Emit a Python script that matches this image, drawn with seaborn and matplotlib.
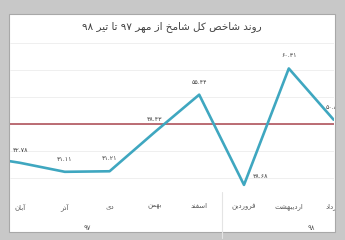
import matplotlib
matplotlib.use('Agg')
import matplotlib.pyplot as plt
import seaborn as sns
import pandas as pd
from matplotlib.patches import Rectangle

# chart data
months = ['مهر', 'آبان', 'آذر', 'دی', 'بهمن', 'اسفند', 'فروردین', 'اردیبهشت', 'خرداد', 'تیر']
values = [44.10, 42.78, 41.11, 41.21, 48.43, 55.44, 38.68, 60.31, 50.80, 51.50]
years = ['۹۷', '۹۸']
year_span = [(0, 5), (6, 9)]
threshold = 50
title = 'روند شاخص کل شامخ از مهر ۹۷ تا تیر ۹۸'

# simple persian shaping (matplotlib has no text shaping)
FORMS = {
    'ا': ('\uFE8D', '\uFE8E', None, None), 'آ': ('\uFE81', '\uFE82', None, None),
    'ب': ('\uFE8F', '\uFE90', '\uFE91', '\uFE92'), 'ت': ('\uFE95', '\uFE96', '\uFE97', '\uFE98'),
    'خ': ('\uFEA5', '\uFEA6', '\uFEA7', '\uFEA8'), 'د': ('\uFEA9', '\uFEAA', None, None),
    'ذ': ('\uFEAB', '\uFEAC', None, None), 'ر': ('\uFEAD', '\uFEAE', None, None),
    'ز': ('\uFEAF', '\uFEB0', None, None), 'س': ('\uFEB1', '\uFEB2', '\uFEB3', '\uFEB4'),
    'ش': ('\uFEB5', '\uFEB6', '\uFEB7', '\uFEB8'), 'ص': ('\uFEB9', '\uFEBA', '\uFEBB', '\uFEBC'),
    'ف': ('\uFED1', '\uFED2', '\uFED3', '\uFED4'), 'ل': ('\uFEDD', '\uFEDE', '\uFEDF', '\uFEE0'),
    'م': ('\uFEE1', '\uFEE2', '\uFEE3', '\uFEE4'), 'ن': ('\uFEE5', '\uFEE6', '\uFEE7', '\uFEE8'),
    'ه': ('\uFEE9', '\uFEEA', '\uFEEB', '\uFEEC'), 'و': ('\uFEED', '\uFEEE', None, None),
    'ک': ('\uFB8E', '\uFB8F', '\uFB90', '\uFB91'), 'ی': ('\uFBFC', '\uFBFD', '\uFBFE', '\uFBFF'),
}


def shape_word(w):
    out = []
    for i, c in enumerate(w):
        if c not in FORMS:
            out.append(c)
            continue
        iso, fin, ini, med = FORMS[c]
        prev = w[i - 1] if i > 0 else None
        nxt = w[i + 1] if i + 1 < len(w) else None
        jp = prev in FORMS and FORMS[prev][2] is not None
        jn = nxt in FORMS and ini is not None
        if jp and jn:
            out.append(med)
        elif jp:
            out.append(fin)
        elif jn:
            out.append(ini)
        else:
            out.append(iso)
    return ''.join(out)[::-1]


def fa(text):
    words = text.split(' ')
    words = [w if w[0] in '۰۱۲۳۴۵۶۷۸۹' else shape_word(w) for w in words]
    return ' '.join(reversed(words))


def fa_num(v):
    return f'{v:.2f}'.translate(str.maketrans('0123456789', '۰۱۲۳۴۵۶۷۸۹'))


df = pd.DataFrame({'idx': range(len(months)), 'value': values})

sns.set_style('white')
plt.rcParams['font.family'] = ['DejaVu Sans']

fig = plt.figure(figsize=(3.45, 2.40), dpi=100)
fig.patch.set_facecolor('#c8c8c8')

# white panel with thin border, behind everything
bg = fig.add_axes([0, 0, 1, 1], zorder=-1)
bg.set_xlim(0, 345)
bg.set_ylim(240, 0)
bg.axis('off')
panel = Rectangle((9, 14), 326, 218, facecolor='white', edgecolor='#a8a8a8', linewidth=0.8)
bg.add_patch(panel)

ax = fig.add_axes([10 / 345, 45 / 240, 324 / 345, 155 / 240], zorder=1)
ax.set_facecolor('none')

for g in range(40, 70, 5):
    ax.axhline(g, color='#ededed', lw=0.6, zorder=0)
ax.axhline(threshold, color='#b0535c', lw=1.4, alpha=0.85, zorder=1)

sns.lineplot(data=df, x='idx', y='value', ax=ax, color='#3fa7c0', lw=1.9, zorder=3)

for i, v in enumerate(values):
    off = (12, 6) if i == 6 else (0, 9)
    t = ax.annotate(fa_num(v), (i, v), xytext=off, textcoords='offset points',
                    ha='center', va='center', fontsize=4.5, color='#404040')
    t.set_clip_path(panel)

ax.set_xticks(range(len(months)))
ax.set_xticklabels([fa(m) for m in months], fontsize=5, color='#595959')
ax.set_xlim(0.777, 8.009)
ax.set_ylim(36.8, 65.6)
ax.tick_params(axis='x', length=0, pad=6)
ax.set_yticks([])
ax.set_xlabel('')
ax.set_ylabel('')
for s in ax.spines.values():
    s.set_visible(False)
for lbl in ax.get_xticklabels():
    lbl.set_clip_path(panel)

# year group labels and separator
for yl, (a, b) in zip(years, year_span):
    ax.text((a + b) / 2, -0.21, yl, transform=ax.get_xaxis_transform(), ha='center', va='center',
            fontsize=5, color='#595959')
ax.plot([5.5, 5.5], [0.02, -0.28], transform=ax.get_xaxis_transform(), color='#e4e4e4', lw=0.8, clip_on=False)

fig.text(172 / 345, 1 - 27 / 240, fa(title), ha='center', va='center', fontsize=7.5, color='#404040')

fig.savefig('out.png', dpi=100, facecolor=fig.get_facecolor())
